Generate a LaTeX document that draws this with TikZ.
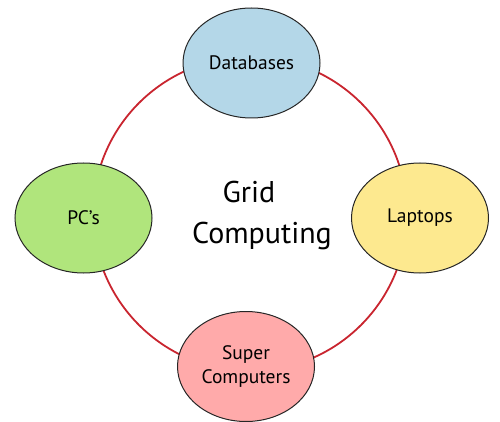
\documentclass[tikz,border=0pt]{standalone}
\usepackage{fontspec}
\setmainfont{PT Sans}
\usetikzlibrary{shapes.geometric,backgrounds}
\definecolor{ringred}{HTML}{C9252F}
\definecolor{dbblue}{HTML}{B4D7E8}
\definecolor{pcgreen}{HTML}{B0E57C}
\definecolor{lapyellow}{HTML}{FDE98F}
\definecolor{suppink}{HTML}{FFAAAA}
\begin{document}
\begin{tikzpicture}[x=1pt,y=-1pt,
  bubble/.style={ellipse,draw=black!85,line width=1pt,minimum width=137pt,minimum height=110pt,inner sep=0pt,font=\fontsize{19.5}{24}\selectfont,align=center},
  ringline/.style={draw=ringred,line width=1.8pt},
  titletext/.style={font=\fontsize{30}{41}\selectfont,align=center,inner sep=0pt}]
\useasboundingbox (0,0) rectangle (500,422);
\coordinate (c) at (250,214);
\node[bubble,fill=dbblue] (db) at (251.5,63) {Databases};
\node[bubble,fill=pcgreen] (pc) at (83.5,218) {PC’s};
\node[bubble,fill=lapyellow] (lap) at (420,218) {Laptops};
\node[bubble,fill=suppink] (sup) at (246,366.5) {Super\\Computers};
\node[titletext] (title) at (262,215) {\hspace*{-26pt}Grid\\Computing};
\begin{scope}[on background layer]
\draw[ringline] (c) circle[radius=157pt];
\end{scope}
\end{tikzpicture}
\end{document}
